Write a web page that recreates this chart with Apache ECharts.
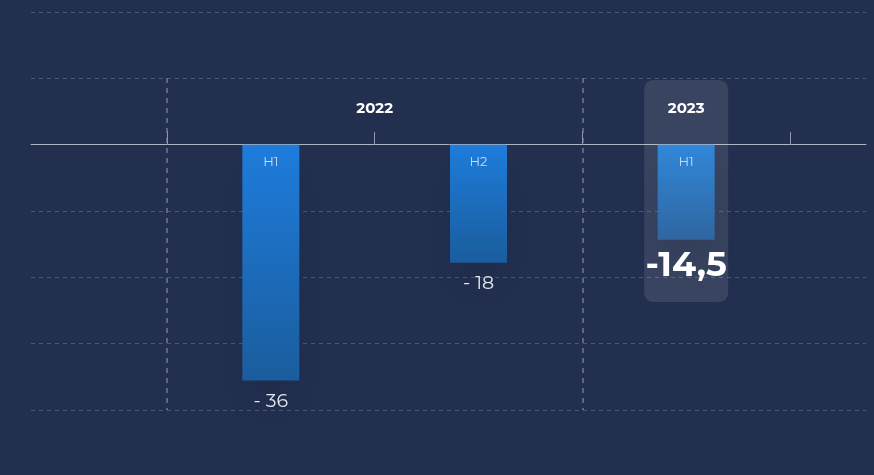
<!DOCTYPE html>
<html>
<head>
<meta charset="utf-8">
<script src="https://cdn.jsdelivr.net/npm/echarts@6/dist/echarts.min.js"></script>
<style>
  html, body { margin: 0; padding: 0; background: #222f4f; }
  #chart { width: 874px; height: 475px; }
</style>
</head>
<body>
<div id="chart"></div>
<script>
// 数据
var categories = ['H1', 'H2', 'H1'];
var yearOf = ['2022', '2022', '2023'];
var values = [-36, -18, -14.5];
var valueLabels = ['- 36', '- 18', '-14,5'];

var hlIndex = values.length - 1; // 高亮的最后一期
var HL_TOP = 9.9, HL_BOTTOM = -24;

var FONT = 'Montserrat, Inter, "Noto Sans", sans-serif';

// 年份分组：中心位置（标签）和起点（竖向虚线）
var yearCenters = {};
var yearStarts = [];
(function () {
    var groups = {};
    yearOf.forEach(function (y, i) {
        if (!groups[y]) { groups[y] = []; yearStarts.push(i); }
        groups[y].push(i);
    });
    Object.keys(groups).forEach(function (y) {
        var idx = groups[y];
        yearCenters[y] = (idx[0] + idx[idx.length - 1]) / 2 + 0.5;
    });
})();

function barGradient(top, bottom) {
    return new echarts.graphic.LinearGradient(0, 0, 0, 1, [
        { offset: 0, color: top },
        { offset: 1, color: bottom }
    ]);
}

var barData = values.map(function (v, i) {
    var hl = i === hlIndex;
    return {
        value: v,
        itemStyle: {
            color: hl ? barGradient('#3187da', '#2f66a0') : barGradient('#1e7cdb', '#1a5d9d')
        },
        label: hl ? {
            fontSize: 35, fontWeight: 'bold', color: '#ffffff', distance: 8
        } : {
            fontSize: 19, color: '#e3e7ee', distance: 11
        }
    };
});

var hlTop = categories.map(function (c, i) { return i === hlIndex ? HL_TOP : null; });
var hlBottom = categories.map(function (c, i) { return i === hlIndex ? HL_BOTTOM : null; });

var myChart = echarts.init(document.getElementById('chart'));

var option = {
    backgroundColor: '#222f4f',
    animation: false,
    textStyle: { fontFamily: FONT },
    grid: [
        { left: 31, right: 8, top: 12, bottom: 65 },   // 背景网格
        { left: 167, right: 84, top: 78, bottom: 65 }  // 柱子
    ],
    xAxis: [
        {
            gridIndex: 0, type: 'value', min: 0, max: 1,
            axisLine: { show: true, onZero: true, lineStyle: { color: '#aeb5c4', width: 1 } },
            axisTick: { show: false }, axisLabel: { show: false }, splitLine: { show: false }
        },
        {
            gridIndex: 1, type: 'category', data: categories, z: 10,
            axisLine: { show: false, onZero: true },
            axisTick: { show: true, inside: true, length: 13, lineStyle: { color: '#8e98ad' } },
            axisLabel: { show: false },
            splitLine: { show: false }
        },
        {
            // 年份标签
            gridIndex: 1, type: 'value', position: 'top', min: 0, max: categories.length, interval: 0.5, z: 10,
            axisLine: { show: false, onZero: false },
            axisTick: { show: false }, splitLine: { show: false },
            axisLabel: {
                inside: true, margin: 23, fontSize: 15, fontWeight: 'bold', color: '#ffffff', fontFamily: FONT,
                formatter: function (v) {
                    for (var y in yearCenters) {
                        if (Math.abs(yearCenters[y] - v) < 1e-6) return y;
                    }
                    return '';
                }
            }
        },
        { gridIndex: 1, type: 'category', data: categories, show: false },
        {
            // 年份分隔虚线
            gridIndex: 1, type: 'value', min: 0, max: categories.length,
            interval: yearStarts[1] - yearStarts[0],
            axisLine: { show: false, onZero: false },
            axisTick: { show: false }, axisLabel: { show: false },
            splitLine: {
                show: true, showMinLine: true, showMaxLine: false,
                lineStyle: { type: [5, 5], color: '#6f7a92', width: 1.5 }
            }
        }
    ],
    yAxis: [
        {
            gridIndex: 0, type: 'value', min: -40, max: 20, interval: 10,
            axisLine: { show: false }, axisTick: { show: false }, axisLabel: { show: false },
            splitLine: { show: true, lineStyle: { type: [4, 4], color: '#4a5776', width: 1 } }
        },
        {
            gridIndex: 1, type: 'value', min: -40.5, max: 10.2,
            axisLine: { show: false }, axisTick: { show: false }, axisLabel: { show: false },
            splitLine: { show: false }
        }
    ],
    series: [
        {
            name: 'highlight-top', type: 'bar', xAxisIndex: 3, yAxisIndex: 1, stack: 'hl',
            barWidth: 84, z: 1, silent: true,
            itemStyle: { color: 'rgba(255,255,255,0.1)', borderRadius: [9, 9, 0, 0] },
            data: hlTop
        },
        {
            name: 'highlight-bottom', type: 'bar', xAxisIndex: 3, yAxisIndex: 1, stack: 'hl',
            barWidth: 84, z: 1, silent: true,
            itemStyle: { color: 'rgba(255,255,255,0.1)', borderRadius: [0, 0, 9, 9] },
            data: hlBottom
        },
        {
            name: 'value', type: 'bar', xAxisIndex: 1, yAxisIndex: 1,
            barWidth: 57, barGap: '-100%', z: 3,
            itemStyle: {
                shadowColor: 'rgba(14, 22, 44, 0.15)', shadowBlur: 40, shadowOffsetY: 25
            },
            label: {
                show: true, position: 'bottom', fontFamily: FONT,
                formatter: function (p) { return valueLabels[p.dataIndex]; }
            },
            data: barData
        },
        {
            // 柱内的 H1/H2 标签
            name: 'period', type: 'bar', xAxisIndex: 1, yAxisIndex: 1,
            barWidth: 57, barGap: '-100%', z: 4, silent: true,
            itemStyle: { color: 'rgba(0,0,0,0)' },
            label: {
                show: true, position: 'insideTop', distance: 11,
                fontSize: 13, color: '#c8dbf2', fontFamily: FONT,
                formatter: function (p) { return categories[p.dataIndex]; }
            },
            data: values
        }
    ]
};

myChart.setOption(option);
</script>
</body>
</html>
